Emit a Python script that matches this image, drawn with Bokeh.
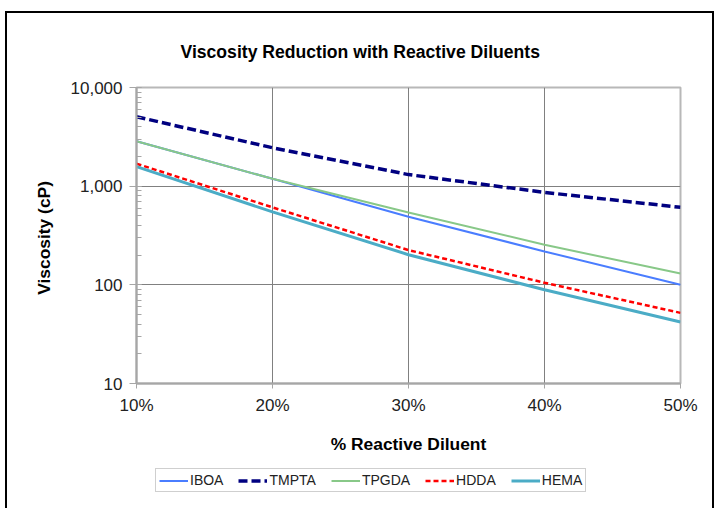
from bokeh.plotting import figure
from bokeh.layouts import column
from bokeh.models import (Legend, LegendItem, NumeralTickFormatter, PrintfTickFormatter,
                          FixedTicker, Title, Range1d)
from bokeh.embed import file_html
from bokeh.resources import INLINE

# ---- data ----
diluent_pct = [10, 20, 30, 40, 50]
iboa = [2850, 1190, 490, 218, 100]
tmpta = [5050, 2450, 1310, 865, 610]
tpgda = [2850, 1190, 540, 255, 130]
hdda = [1690, 610, 225, 105, 52]
hema = [1580, 548, 202, 89, 42]

series_names = ["IBOA", "TMPTA", "TPGDA", "HDDA", "HEMA"]
x_ticks = [10, 20, 30, 40, 50]

FONT = "Liberation Sans"

styles_list = [
    dict(line_color="#4a7dff", line_width=2),
    dict(line_color="#000080", line_width=3.5, line_dash="9 4"),
    dict(line_color="#88c888", line_width=2),
    dict(line_color="#ff0000", line_width=2.5, line_dash="5 3"),
    dict(line_color="#4bacc6", line_width=3),
]
series_values = [iboa, tmpta, tpgda, hdda, hema]

p = figure(frame_width=540, frame_height=294, output_backend="svg", toolbar_location=None,
           y_axis_type="log", x_range=(10, 50), y_range=(10, 10000),
           min_border_left=129, min_border_right=36, min_border_top=74,
           min_border_bottom=76)
p.styles = {"border-top": "2px solid black", "border-left": "2px solid black",
            "border-right": "2px solid black"}

p.background_fill_color = "white"
p.border_fill_color = "white"
p.outline_line_color = "#b8b8b8"
p.outline_line_width = 2

# title
p.title = Title(text="Viscosity Reduction with Reactive Diluents", align="left",
                offset=44, standoff=51, text_font=FONT, text_font_size="17.6px",
                text_font_style="bold", text_color="black")

# grids
p.xgrid.ticker = FixedTicker(ticks=x_ticks)
p.xgrid.grid_line_color = "#808080"
p.ygrid.grid_line_color = "#808080"
p.xgrid.grid_line_width = 1
p.ygrid.grid_line_width = 1

# axes
for ax in (p.xaxis[0], p.yaxis[0]):
    ax.axis_line_color = "#a6a6a6"
    ax.axis_line_width = 2
    ax.major_tick_line_color = "#a6a6a6"
    ax.minor_tick_line_color = "#a6a6a6"
    ax.major_label_text_font = FONT
    ax.major_label_text_font_size = "17px"
    ax.major_label_text_color = "#222222"
    ax.axis_label_text_font = FONT
    ax.axis_label_text_font_size = "17.4px"
    ax.axis_label_text_font_style = "bold"
    ax.axis_label_text_color = "black"

p.xaxis.ticker = FixedTicker(ticks=x_ticks)
p.xaxis.formatter = PrintfTickFormatter(format="%d%%")
p.xaxis.major_tick_out = 5
p.xaxis.major_tick_in = 0
p.xaxis.minor_tick_out = 0
p.xaxis.minor_tick_in = 0
p.xaxis.major_label_standoff = 7
p.xaxis.axis_label = "% Reactive Diluent"
p.xaxis.axis_label_standoff = 16

p.yaxis.formatter = NumeralTickFormatter(format="0,0")
p.yaxis.major_tick_out = 7
p.yaxis.major_tick_in = 0
p.yaxis.minor_tick_out = 0
p.yaxis.minor_tick_in = 5
p.yaxis.major_label_standoff = 7
p.yaxis.axis_label = "Viscosity  (cP)"
p.yaxis.axis_label_standoff = 14

# lines
for vals, st in zip(series_values, styles_list):
    p.line(diluent_pct, vals, **st)

# ---- legend strip (separate small figure below the chart) ----
lf = figure(frame_width=705, frame_height=51, output_backend="svg", toolbar_location=None,
            x_range=Range1d(0, 1), y_range=Range1d(0, 1),
            x_axis_location=None, y_axis_location=None,
            min_border_left=0, min_border_right=0, min_border_top=0, min_border_bottom=0)
lf.styles = {"border-left": "2px solid black", "border-right": "2px solid black"}
lf.grid.visible = False
lf.outline_line_color = None
lf.background_fill_color = "white"
lf.border_fill_color = "white"

leg_renderers = [lf.line(diluent_pct, vals, **st) for vals, st in zip(series_values, styles_list)]
legend = Legend(items=[LegendItem(label=n, renderers=[r]) for n, r in zip(series_names, leg_renderers)],
                orientation="horizontal", location=(148, 16),
                glyph_width=29, glyph_height=11, label_height=11, label_standoff=2,
                spacing=15, padding=3, margin=0,
                label_text_font=FONT, label_text_font_size="14px", label_text_color="#222222",
                border_line_color="#a0a0a0", border_line_width=1,
                background_fill_color="white")
lf.add_layout(legend, "center")

layout = column(p, lf, spacing=0)
layout.styles = {"margin-left": "5px", "margin-top": "11px"}

open("out.html", "w").write(file_html(layout, INLINE))
